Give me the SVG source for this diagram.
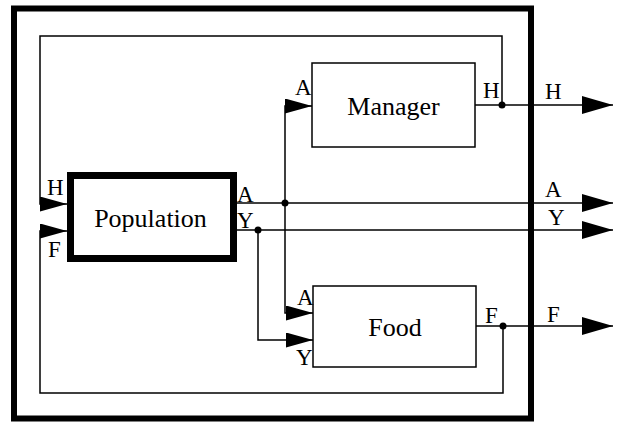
<svg xmlns="http://www.w3.org/2000/svg" width="618" height="422" viewBox="0 0 618 422">
<style>
.thin{fill:none;stroke:#000;stroke-width:1.5}
.box{fill:#fff;stroke:#000;stroke-width:1.5}
.lbl{font-family:"Liberation Serif","Times New Roman",serif;font-size:23px;fill:#000}
.name{font-family:"Liberation Serif","Times New Roman",serif;font-size:26px;fill:#000;text-anchor:middle}
.dot{fill:#000}
</style>
<defs>
<marker id="outArrow" markerUnits="userSpaceOnUse" markerWidth="32" markerHeight="20" refX="31" refY="9" orient="auto">
<path d="M0,0 L31,9 L0,18 Z" fill="#000"/>
</marker>
<marker id="inArrow" markerUnits="userSpaceOnUse" markerWidth="30" markerHeight="17" refX="27" refY="7.5" orient="auto">
<path d="M0,0 L27,7.5 L0,15 Z" fill="#000"/>
</marker>
</defs>
<rect width="618" height="422" fill="#fff"/>
<g id="frame">
<rect x="14" y="8.5" width="517" height="410" fill="none" stroke="#000" stroke-width="6"/>
</g>
<g id="connectors">
<path class="thin" d="M502,105 V36 H40 V204 H67" marker-end="url(#inArrow)"/>
<path class="thin" d="M503,326 V393 H40 V231 H67" marker-end="url(#inArrow)"/>
<path class="thin" d="M475,105 H613" marker-end="url(#outArrow)"/>
<path class="thin" d="M237,203 H613" marker-end="url(#outArrow)"/>
<path class="thin" d="M237,230 H613" marker-end="url(#outArrow)"/>
<path class="thin" d="M476,326 H613" marker-end="url(#outArrow)"/>
<path class="thin" d="M285,203 V106 H312" marker-end="url(#inArrow)"/>
<path class="thin" d="M285,203 V313 H313" marker-end="url(#inArrow)"/>
<path class="thin" d="M258,230 V340 H313" marker-end="url(#inArrow)"/>
<circle class="dot" cx="285" cy="203" r="3.5"/>
<circle class="dot" cx="258" cy="230" r="3.5"/>
<circle class="dot" cx="502" cy="105" r="3.5"/>
<circle class="dot" cx="503" cy="326" r="3.5"/>
<text class="lbl" x="545" y="99">H</text>
<text class="lbl" x="545" y="197">A</text>
<text class="lbl" x="548" y="225">Y</text>
<text class="lbl" x="547" y="322">F</text>
</g>
<g id="population">
<rect x="70.5" y="175.5" width="163" height="83" fill="#fff" stroke="#000" stroke-width="7"/>
<text class="name" x="150.5" y="227">Population</text>
<text class="lbl" x="47" y="195">H</text>
<text class="lbl" x="48" y="257">F</text>
<text class="lbl" x="237" y="202">A</text>
<text class="lbl" x="237" y="228">Y</text>
</g>
<g id="manager">
<rect class="box" x="312" y="63" width="163" height="84"/>
<text class="name" x="393.5" y="115">Manager</text>
<text class="lbl" x="295" y="95">A</text>
<text class="lbl" x="483" y="98">H</text>
</g>
<g id="food">
<rect class="box" x="313" y="286" width="163" height="81"/>
<text class="name" x="395" y="336">Food</text>
<text class="lbl" x="297" y="305">A</text>
<text class="lbl" x="296" y="365">Y</text>
<text class="lbl" x="485" y="323">F</text>
</g>
</svg>
